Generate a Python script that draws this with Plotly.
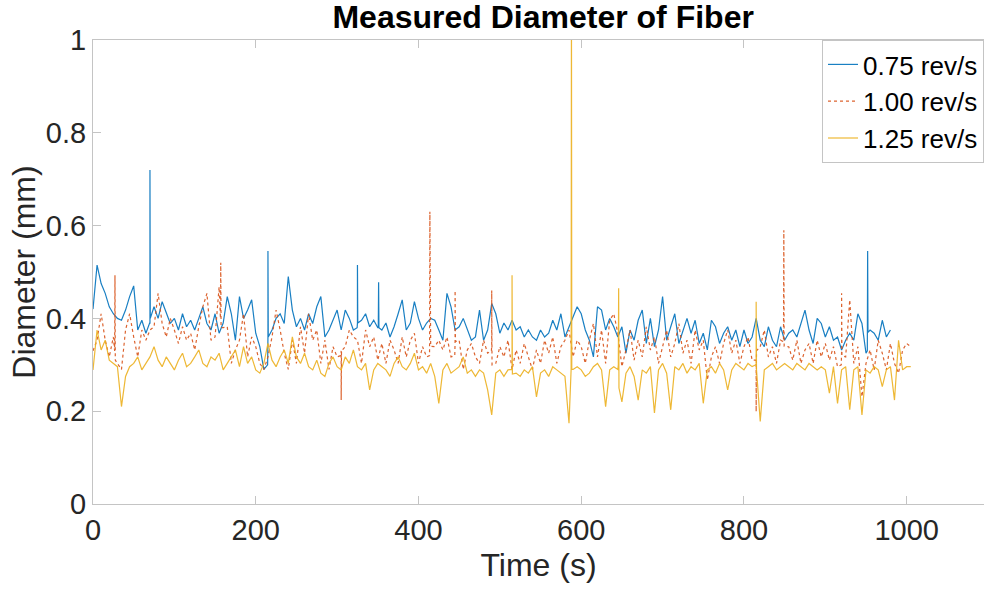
import plotly.graph_objects as go

step = 5
time_all = list(range(0, 1010, step))

d075 = [
0.42,0.515,0.475,0.454,0.425,0.41,0.40,0.396,0.418,0.447,
0.47,0.375,0.396,0.368,0.39,0.425,0.40,0.436,0.41,0.389,
0.40,0.375,0.41,0.382,0.396,0.375,0.40,0.425,0.389,0.375,
0.41,0.368,0.39,0.447,0.41,0.353,0.447,0.40,0.418,0.44,
0.368,0.339,0.29,0.36,0.375,0.40,0.41,0.389,0.49,0.418,
0.382,0.40,0.375,0.41,0.389,0.425,0.447,0.36,0.375,0.396,
0.418,0.375,0.418,0.40,0.375,0.39,0.396,0.41,0.382,0.396,
0.38,0.375,0.39,0.36,0.382,0.41,0.44,0.375,0.39,0.436,
0.40,0.375,0.39,0.40,0.396,0.375,0.353,0.454,0.425,0.375,
0.382,0.40,0.375,0.353,0.36,0.418,0.353,0.375,0.432,0.41,
0.368,0.39,0.375,0.396,0.375,0.382,0.36,0.375,0.36,0.353,
0.375,0.36,0.368,0.396,0.375,0.41,0.36,0.382,0.40,0.425,
0.41,0.375,0.353,0.317,0.425,0.418,0.375,0.40,0.382,0.36,
0.382,0.325,0.375,0.353,0.396,0.418,0.346,0.40,0.339,0.375,
0.447,0.353,0.382,0.41,0.346,0.375,0.40,0.368,0.396,0.346,
0.368,0.332,0.396,0.382,0.346,0.368,0.382,0.353,0.375,0.339,
0.375,0.346,0.36,0.40,0.353,0.339,0.382,0.353,0.339,0.382,
0.353,0.368,0.375,0.36,0.389,0.418,0.375,0.346,0.40,0.389,
0.36,0.382,0.353,0.36,0.332,0.353,0.368,0.353,0.41,0.389,
0.325,0.375,0.368,0.353,0.396,0.36,0.375]

d100 = [
0.33,0.353,0.41,0.353,0.317,0.36,0.303,0.29,0.375,0.41,
0.36,0.317,0.375,0.353,0.375,0.382,0.454,0.389,0.36,0.40,
0.375,0.346,0.382,0.353,0.368,0.332,0.382,0.425,0.454,0.353,
0.36,0.468,0.38,0.382,0.303,0.332,0.353,0.41,0.317,0.36,
0.339,0.303,0.29,0.317,0.36,0.418,0.375,0.325,0.29,0.353,
0.303,0.382,0.325,0.41,0.353,0.375,0.303,0.353,0.29,0.339,
0.317,0.33,0.339,0.375,0.36,0.353,0.303,0.375,0.339,0.36,
0.31,0.346,0.303,0.353,0.332,0.303,0.36,0.317,0.353,0.368,
0.303,0.339,0.317,0.34,0.339,0.353,0.332,0.36,0.317,0.35,
0.353,0.29,0.332,0.346,0.317,0.303,0.353,0.325,0.34,0.303,
0.339,0.317,0.353,0.29,0.332,0.303,0.346,0.317,0.29,0.332,
0.303,0.353,0.325,0.36,0.303,0.339,0.353,0.375,0.317,0.353,
0.339,0.303,0.353,0.389,0.317,0.375,0.303,0.396,0.41,0.368,
0.296,0.332,0.375,0.31,0.353,0.317,0.382,0.332,0.36,0.303,
0.339,0.375,0.317,0.346,0.389,0.325,0.353,0.303,0.375,0.332,
0.353,0.267,0.317,0.339,0.303,0.346,0.375,0.325,0.353,0.303,
0.339,0.36,0.31,0.30,0.339,0.375,0.317,0.339,0.303,0.353,
0.34,0.339,0.31,0.353,0.303,0.332,0.346,0.303,0.353,0.317,
0.346,0.31,0.339,0.296,0.33,0.317,0.44,0.303,0.339,0.231,
0.303,0.332,0.289,0.353,0.325,0.289,0.346,0.303,0.282,0.332,
0.346,0.339]

d125 = [
0.289,0.375,0.332,0.353,0.31,0.303,0.296,0.21,0.275,0.296,
0.303,0.317,0.289,0.303,0.317,0.339,0.31,0.296,0.317,0.303,
0.289,0.31,0.325,0.296,0.303,0.317,0.332,0.303,0.296,0.317,
0.31,0.325,0.289,0.303,0.317,0.332,0.296,0.339,0.303,0.317,
0.289,0.282,0.303,0.346,0.31,0.296,0.317,0.332,0.303,0.36,
0.317,0.303,0.325,0.296,0.289,0.31,0.282,0.275,0.303,0.317,
0.296,0.289,0.317,0.303,0.332,0.296,0.289,0.303,0.246,0.289,
0.303,0.296,0.289,0.275,0.303,0.317,0.296,0.289,0.303,0.325,
0.289,0.296,0.282,0.303,0.275,0.217,0.289,0.303,0.282,0.289,
0.296,0.317,0.282,0.289,0.275,0.289,0.282,0.246,0.192,0.282,
0.289,0.275,0.289,0.29,0.282,0.275,0.289,0.282,0.296,0.231,
0.282,0.289,0.275,0.296,0.289,0.282,0.275,0.174,0.29,0.296,
0.289,0.275,0.282,0.296,0.303,0.289,0.21,0.289,0.296,0.29,
0.22,0.282,0.296,0.275,0.224,0.289,0.282,0.296,0.196,0.289,
0.303,0.282,0.203,0.296,0.289,0.303,0.282,0.296,0.289,0.303,
0.217,0.289,0.296,0.282,0.303,0.289,0.246,0.289,0.303,0.296,
0.289,0.303,0.296,0.30,0.178,0.289,0.296,0.303,0.289,0.296,
0.303,0.296,0.289,0.303,0.296,0.289,0.303,0.296,0.289,0.296,
0.289,0.239,0.296,0.217,0.289,0.296,0.203,0.289,0.296,0.192,
0.289,0.282,0.296,0.289,0.253,0.289,0.296,0.224,0.353,0.289,
0.296,0.296]

# narrow one-sample spikes: (time s, base before, peak, base after)
spikes075 = [(70, 0.39, 0.72, 0.40), (215, 0.30, 0.545, 0.36), (325, 0.38, 0.515, 0.39),
             (351, 0.38, 0.478, 0.38), (952, 0.33, 0.545, 0.37)]
spikes100 = [(27, 0.33, 0.493, 0.31), (157, 0.40, 0.52, 0.38), (414, 0.32, 0.63, 0.34),
             (445, 0.32, 0.46, 0.35), (490, 0.33, 0.46, 0.30), (849, 0.35, 0.59, 0.34),
             (920, 0.30, 0.454, 0.32), (305, 0.32, 0.224, 0.33), (815, 0.31, 0.199, 0.33)]
spikes125 = [(588, 0.29, 1.1, 0.29), (515, 0.29, 0.493, 0.28), (646, 0.30, 0.465, 0.25),
             (815, 0.30, 0.436, 0.29)]

labels = ["0.75 rev/s", "1.00 rev/s", "1.25 rev/s"]
colors = ["#0072BD", "#D95319", "#EDB120"]
dashes = ["solid", "dot", "solid"]
series = [d075, d100, d125]
spikes = [spikes075, spikes100, spikes125]


def merge(ts, ys, sp):
    pts = list(zip(ts, ys))
    for t, b0, pk, b1 in sp:
        pts += [(t - 0.4, b0), (t, pk), (t + 0.4, b1)]
    pts.sort(key=lambda p: p[0])
    return [p[0] for p in pts], [p[1] for p in pts]


FONT = "Liberation Sans, Arial, sans-serif"
AXC = "#c4c4c4"

fig = go.Figure()
for lab, col, dsh, ys, sp in zip(labels, colors, dashes, series, spikes):
    xs, yy = merge(time_all[:len(ys)], ys, sp)
    fig.add_trace(go.Scatter(
        x=xs, y=yy, mode="lines", name=lab,
        line=dict(color=col, width=1.2, dash=dsh), opacity=0.9))

fig.update_layout(
    width=984, height=592,
    margin=dict(l=93, r=0, t=40, b=88),
    paper_bgcolor="white", plot_bgcolor="white",
    font=dict(family=FONT, color="#262626"),
    title=dict(text="<b>Measured Diameter of Fiber</b>", x=0.552, xanchor="center",
               y=1 - 17 / 592, yanchor="middle", font=dict(size=32, color="black", family=FONT)),
    showlegend=True,
    legend=dict(x=1, xanchor="right", y=1, yanchor="top", bgcolor="white",
                bordercolor=AXC, borderwidth=1, font=dict(size=26, color="black"),
                itemwidth=30, tracegroupgap=0),
)
fig.update_xaxes(range=[0, 1095], tickvals=[0, 200, 400, 600, 800, 1000],
                 showgrid=False, zeroline=False, showline=True, linecolor=AXC, linewidth=1,
                 mirror="ticks", ticks="inside", ticklen=8, tickcolor=AXC,
                 tickfont=dict(size=29, color="#262626"),
                 title=dict(text="Time (s)", font=dict(size=32, color="#262626"), standoff=8))
fig.update_yaxes(range=[0, 1], tickvals=[0, 0.2, 0.4, 0.6, 0.8, 1],
                 ticktext=["0", "0.2", "0.4", "0.6", "0.8", "1"],
                 showgrid=False, zeroline=False, showline=True, linecolor=AXC, linewidth=1,
                 ticks="inside", ticklen=8, tickcolor=AXC,
                 tickfont=dict(size=29, color="#262626"),
                 title=dict(text="Diameter (mm)", font=dict(size=32, color="#262626"), standoff=0))

fig.write_html("out.html")
